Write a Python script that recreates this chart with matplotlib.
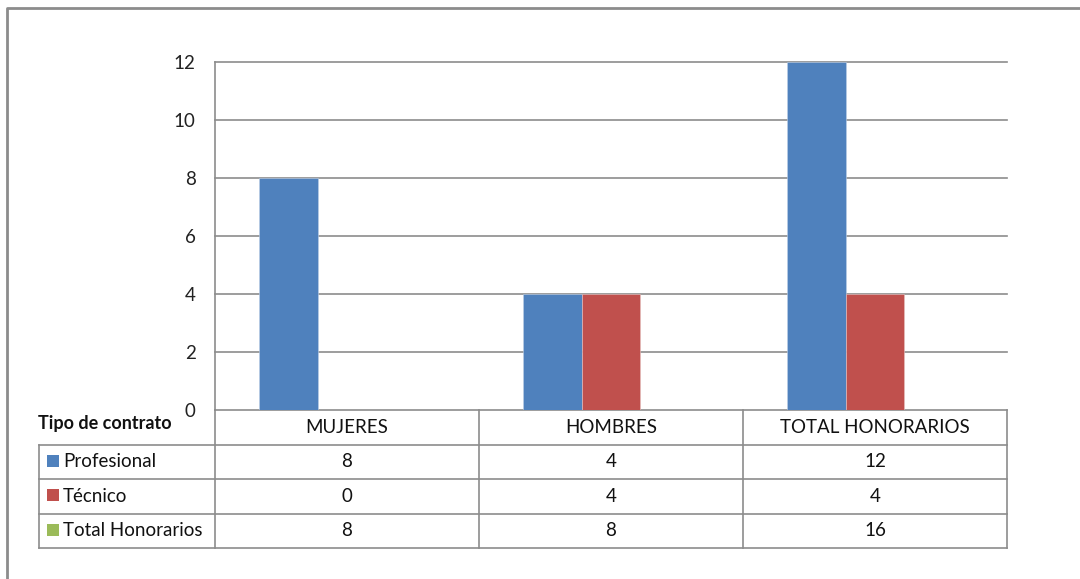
import matplotlib.pyplot as plt
import numpy as np

plt.rcParams['font.family'] = ['Lato', 'DejaVu Sans']

grupos = ["MUJERES", "HOMBRES", "TOTAL HONORARIOS"]
series = ["Profesional", "Técnico", "Total Honorarios"]
profesional = [8, 4, 12]
tecnico = [0, 4, 4]
total_honorarios = [8, 8, 16]
colores = ["#4F81BD", "#C0504D", "#9BBB59"]
yticks = [0, 2, 4, 6, 8, 10, 12]

W, H = 1080, 579
gris = "#8C8C8C"
fs = 13.5

fig = plt.figure(figsize=(W / 100, H / 100), dpi=100)

def caja(x0, y0, x1, y1):
    # pixel box (top-left origin) -> figure fraction
    return [x0 / W, 1 - y1 / H, (x1 - x0) / W, (y1 - y0) / H]

# marco exterior
marco = fig.add_axes([0, 0, 1, 1])
marco.set_xlim(0, W)
marco.set_ylim(H, 0)
marco.axis("off")
marco.plot([7, 7, W + 5], [H + 5, 7.5, 7.5], color=gris, lw=2.0, solid_capstyle="butt")

# grafico de barras
ax = fig.add_axes(caja(215, 62, 1007, 410))
x = np.arange(len(grupos)) + 0.5
ancho = 1 / 4.5
ax.bar(x - ancho, profesional, ancho, color=colores[0], edgecolor="#BFD0E6", linewidth=0.4, zorder=3)
ax.bar(x, tecnico, ancho, color=colores[1], edgecolor="#E6C2C1", linewidth=0.4, zorder=3)
ax.set_xlim(0, 3)
ax.set_ylim(0, 12)
ax.set_yticks(yticks)
ax.set_yticklabels([str(v) for v in yticks], fontsize=fs, color="#222222")
ax.tick_params(axis="y", length=0, pad=14)
ax.set_xticks([])
for v in yticks:
    ax.axhline(v, color=gris, lw=1.2, zorder=1, clip_on=False)
for s in ["top", "right", "bottom"]:
    ax.spines[s].set_visible(False)
ax.spines["left"].set_color(gris)
ax.spines["left"].set_linewidth(1.2)

# tabla de datos
tb = fig.add_axes(caja(215, 410, 1007, 548))
tb.set_xlim(0, 3)
tb.set_ylim(4, 0)
tb.axis("off")
izq = -(215 - 39) / 264
kw = dict(color=gris, lw=1.2, clip_on=False, solid_capstyle="projecting")
for r in range(1, 5):
    tb.plot([izq, 3], [r, r], **kw)
for c in range(0, 4):
    tb.plot([c, c], [0, 4], **kw)
tb.plot([izq, izq], [1, 4], **kw)

for i, g in enumerate(grupos):
    tb.text(i + 0.5, 0.5, g, ha="center", va="center", fontsize=fs, color="#111111")

valores = [profesional, tecnico, total_honorarios]
for r, (nombre, vals) in enumerate(zip(series, valores)):
    fila = r + 1.5
    for i, v in enumerate(vals):
        tb.text(i + 0.5, fila, str(v), ha="center", va="center", fontsize=fs, color="#111111")
    tb.text(izq + (63 - 39) / 264, fila, nombre, ha="left", va="center",
            fontsize=fs, color="#111111", clip_on=False)
    marco.add_patch(plt.Rectangle((47, 443 + r * 34.5 + 11.5), 12, 12,
                                  color=colores[r], lw=0))

marco.text(38, 423, "Tipo de contrato", ha="left", va="center",
           fontsize=13, fontweight="bold", color="#111111")

fig.savefig("out.png", dpi=100)
